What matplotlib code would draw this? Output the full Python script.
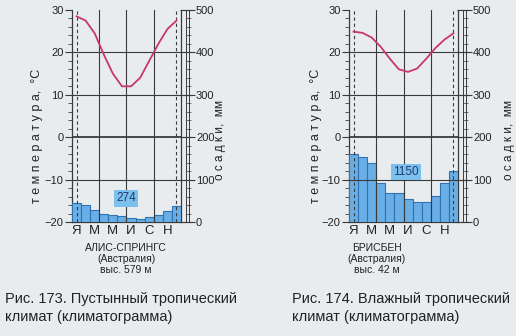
import matplotlib
matplotlib.use('Agg')
import matplotlib.pyplot as plt
from matplotlib.ticker import MultipleLocator
import numpy as np

months = ['Я', '', 'М', '', 'М', '', 'И', '', 'С', '', 'Н', '']

# Алис-Спрингс
temp_alice = [28.5, 27.5, 24.5, 19.5, 15.0, 12.0, 12.0, 14.0, 18.0, 22.0, 25.5, 27.5]
prec_alice = [44, 39, 29, 18, 16, 15, 9, 7, 12, 16, 25, 38]
total_alice = '274'

# Брисбен
temp_bris = [24.9, 24.6, 23.5, 21.3, 18.5, 16.0, 15.4, 16.2, 18.5, 21.0, 23.0, 24.5]
prec_bris = [160, 154, 140, 93, 68, 68, 54, 48, 48, 62, 92, 120]
total_bris = '1150'

station_alice = 'АЛИС-СПРИНГС\n(Австралия)\nвыс. 579 м'
station_bris = 'БРИСБЕН\n(Австралия)\nвыс. 42 м'
caption_alice = 'Рис. 173. Пустынный тропический\nклимат (климатограмма)'
caption_bris = 'Рис. 174. Влажный тропический\nклимат (климатограмма)'

plt.rcParams['font.family'] = ['Liberation Sans', 'DejaVu Sans']

W, H = 516, 336
bg = '#e9ecee'
axcol = '#3a3a3a'
txtcol = '#222222'
bar_fill = '#6aaee6'
bar_edge = '#2f72b5'
line_col = '#c8366e'

fig = plt.figure(figsize=(W / 100, H / 100), dpi=100, facecolor=bg)


def px(x0, y0, x1, y1):
    return [x0 / W, 1 - y1 / H, (x1 - x0) / W, (y1 - y0) / H]


def climatogram(x0, temp, prec, total, total_pos, station, station_x, label_x, rlabel_x):
    x1 = x0 + 109
    ax = fig.add_axes(px(x0, 10, x1, 222))
    ax.set_facecolor(bg)
    xs = np.arange(12)

    # осадки
    axp = ax.twinx()
    axp.bar(xs, prec, width=1.0, color=bar_fill, edgecolor=bar_edge, linewidth=0.8, zorder=2)
    axp.set_ylim(0, 500)
    axp.set_yticks([])
    for s in axp.spines.values():
        s.set_visible(False)
    axp.text(total_pos[0], total_pos[1], total, ha='center', va='center', fontsize=8.5,
             color='#1d3c6e', zorder=5,
             bbox=dict(boxstyle='square,pad=0.2', fc='#7cc0ee', ec='none'))

    # сетка и пунктир
    for v in [2.5, 5.5, 8.5]:
        axp.axvline(v, color=axcol, lw=0.8, zorder=3)
    for t in [-10, 10, 20]:
        axp.axhline((t + 20) * 10, color=axcol, lw=0.8, zorder=3)
    axp.axhline(200, color=axcol, lw=1.3, zorder=3)
    for v in [0, 11]:
        axp.axvline(v, color=axcol, lw=0.8, ls=(0, (3, 2.5)), zorder=4)

    # температура
    axp.plot(xs, (np.array(temp) + 20) * 10, color=line_col, lw=1.3, zorder=6)

    ax.set_xlim(-0.5, 11.5)
    axp.set_xlim(-0.5, 11.5)
    ax.set_ylim(-20, 30)
    ax.yaxis.set_major_locator(MultipleLocator(10))
    ax.yaxis.set_minor_locator(MultipleLocator(2))
    ax.tick_params(axis='y', which='major', length=5, width=0.8, color=axcol,
                   labelsize=8, pad=1, labelcolor=txtcol)
    ax.tick_params(axis='y', which='minor', length=3, width=0.6, color=axcol)
    ax.set_xticks(xs)
    ax.set_xticklabels(months)
    ax.tick_params(axis='x', length=0, labelsize=9.5, pad=2, labelcolor=txtcol)
    ax.spines['top'].set_visible(False)
    for s in ['left', 'right', 'bottom']:
        ax.spines[s].set_color(axcol)
        ax.spines[s].set_linewidth(0.9)

    # шкала осадков
    axr = fig.add_axes(px(x1 + 4.5, 10, x1 + 8, 222))
    axr.set_facecolor(bg)
    axr.set_ylim(0, 500)
    axr.set_xticks([])
    axr.spines['top'].set_visible(False)
    axr.spines['bottom'].set_visible(False)
    for s in ['left', 'right']:
        axr.spines[s].set_color(axcol)
        axr.spines[s].set_linewidth(0.7)
    axr.yaxis.set_major_locator(MultipleLocator(100))
    axr.yaxis.set_minor_locator(MultipleLocator(20))
    axr.tick_params(axis='y', which='major', left=True, right=True, labelleft=False,
                    labelright=True, direction='inout', length=9, width=0.8, color=axcol,
                    labelsize=8, pad=0.5, labelcolor=txtcol)
    axr.tick_params(axis='y', which='minor', left=True, right=False, direction='in',
                    length=3.5, width=0.5, color=axcol)

    fig.text(label_x / W, 1 - 136 / H, 'т е м п е р а т у р а,  °С', rotation=90,
             ha='center', va='center', fontsize=9, color=txtcol)
    fig.text(rlabel_x / W, 1 - 140 / H, 'о с а д к и,  мм', rotation=90,
             ha='center', va='center', fontsize=8.5, color=txtcol)
    fig.text(station_x / W, 1 - 259 / H, station, ha='center', va='center',
             fontsize=7.5, linespacing=1.15, color=txtcol)


climatogram(72, temp_alice, prec_alice, total_alice, (5.45, 56), station_alice, 126, 37, 220)
climatogram(349, temp_bris, prec_bris, total_bris, (5.78, 118), station_bris, 377, 316, 509)

fig.text(5 / W, 1 - 308 / H, caption_alice, ha='left', va='center', fontsize=10.5,
         linespacing=1.35, color=txtcol)
fig.text(292 / W, 1 - 308 / H, caption_bris, ha='left', va='center', fontsize=10.5,
         linespacing=1.35, color=txtcol)

fig.savefig('out.png', dpi=100, facecolor=bg)
